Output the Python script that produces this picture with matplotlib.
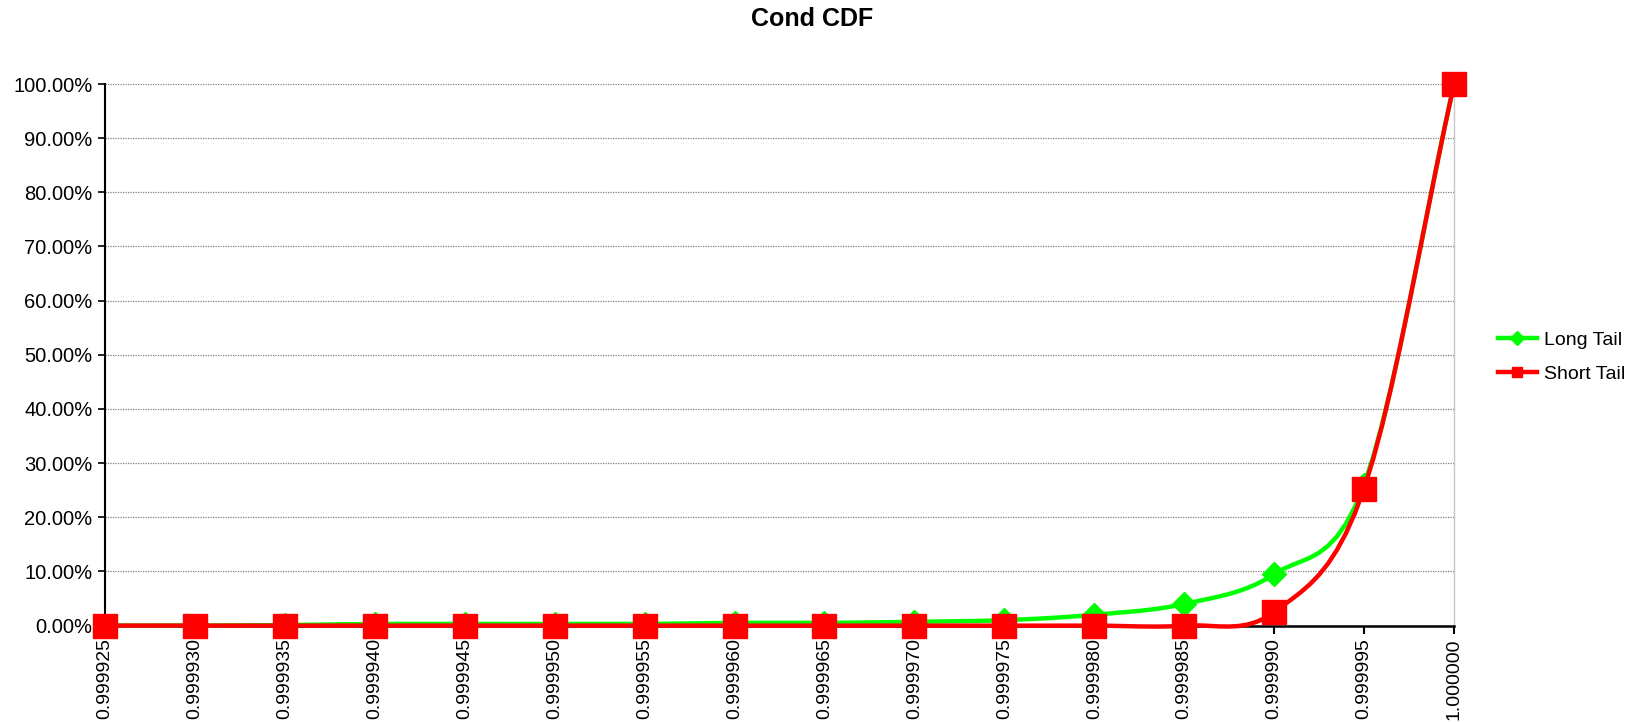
import numpy as np
import matplotlib
matplotlib.use("Agg")
import matplotlib.pyplot as plt
from matplotlib.ticker import PercentFormatter
from matplotlib.lines import Line2D

categories = ["0.999925", "0.999930", "0.999935", "0.999940", "0.999945", "0.999950",
              "0.999955", "0.999960", "0.999965", "0.999970", "0.999975", "0.999980",
              "0.999985", "0.999990", "0.999995", "1.000000"]
long_tail = [0.0, 0.0, 0.1, 0.3, 0.3, 0.3, 0.3, 0.5, 0.5, 0.7, 1.0, 2.0, 4.0, 9.5, 26.0, 100.0]
short_tail = [0.0, 0.0, 0.0, 0.0, 0.0, 0.0, 0.0, 0.0, 0.0, 0.0, 0.0, 0.0, 0.0, 2.5, 25.3, 100.0]
y_ticks = [0, 10, 20, 30, 40, 50, 60, 70, 80, 90, 100]


def smooth(y, n=10):
    """Excel-like smoothed line (cardinal spline) used for drawing only."""
    y = np.asarray(y, float) / 100.0
    m = len(y)
    tang = np.zeros(m)
    tang[1:-1] = (y[2:] - y[:-2]) / 2.0
    tang[0] = (y[1] - y[0])
    tang[-1] = (y[-1] - y[-2])
    xs, ys = [], []
    t = np.linspace(0, 1, n, endpoint=False)
    h00 = 2 * t**3 - 3 * t**2 + 1
    h10 = t**3 - 2 * t**2 + t
    h01 = -2 * t**3 + 3 * t**2
    h11 = t**3 - t**2
    for i in range(m - 1):
        xs.extend(i + t)
        ys.extend(h00 * y[i] + h10 * tang[i] + h01 * y[i + 1] + h11 * tang[i + 1])
    xs.append(m - 1)
    ys.append(y[-1])
    return np.array(xs), np.array(ys)


plt.rcParams['font.family'] = ['Liberation Sans', 'DejaVu Sans']

fig = plt.figure(figsize=(16.43, 7.22), dpi=100)
ax = fig.add_axes([105 / 1643, 1 - 625.6 / 722, (1454 - 105) / 1643, (625.6 - 84) / 722])

x = np.arange(len(categories))
green = '#00FF00'
red = '#FF0000'

gx, gy = smooth(long_tail)
rx, ry = smooth(short_tail)
ax.plot(gx, gy, color=green, lw=3.2, zorder=3, clip_on=False, solid_joinstyle='round')
ax.plot(x, np.array(long_tail) / 100, linestyle='none', marker='D', markersize=12.5,
        color=green, zorder=4, clip_on=False)
ax.plot(rx, ry, color=red, lw=3.2, zorder=5, clip_on=False, solid_joinstyle='round')
ax.plot(x, np.array(short_tail) / 100, linestyle='none', marker='s', markersize=17,
        color=red, zorder=6, clip_on=False)

ax.set_xlim(0, len(categories) - 1)
ax.set_ylim(0, 1)
ax.set_xticks(x)
ax.set_xticklabels(categories, rotation=90, fontsize=14)
ax.set_yticks(np.array(y_ticks) / 100)
ax.yaxis.set_major_formatter(PercentFormatter(1.0, decimals=2))
ax.tick_params(axis='y', labelsize=14.5, direction='out', length=5, width=1.2, pad=4)
ax.tick_params(axis='x', direction='out', length=6, width=1.5, pad=3)

ax.grid(axis='y', color='#808080', linestyle=(0, (1, 1)), linewidth=0.9)
ax.set_axisbelow(True)
ax.spines['top'].set_visible(False)
ax.spines['right'].set_color('#C8C8C8')
ax.spines['right'].set_linewidth(1.0)
ax.spines['left'].set_linewidth(1.5)
ax.spines['bottom'].set_linewidth(1.8)

fig.text(812 / 1643, 1 - 19 / 722, "Cond CDF", ha='center', va='center',
         fontsize=18, fontweight='bold')

handles = [
    Line2D([], [], color=green, lw=3.2, marker='D', markersize=7),
    Line2D([], [], color=red, lw=3.2, marker='s', markersize=7),
]
fig.legend(handles, ["Long Tail", "Short Tail"], loc='center left',
           bbox_to_anchor=(1488 / 1643, 1 - 357 / 722), frameon=False, fontsize=14,
           handlelength=2.0, handletextpad=0.4, labelspacing=0.85, borderpad=0)

fig.savefig("out.png", dpi=100)
